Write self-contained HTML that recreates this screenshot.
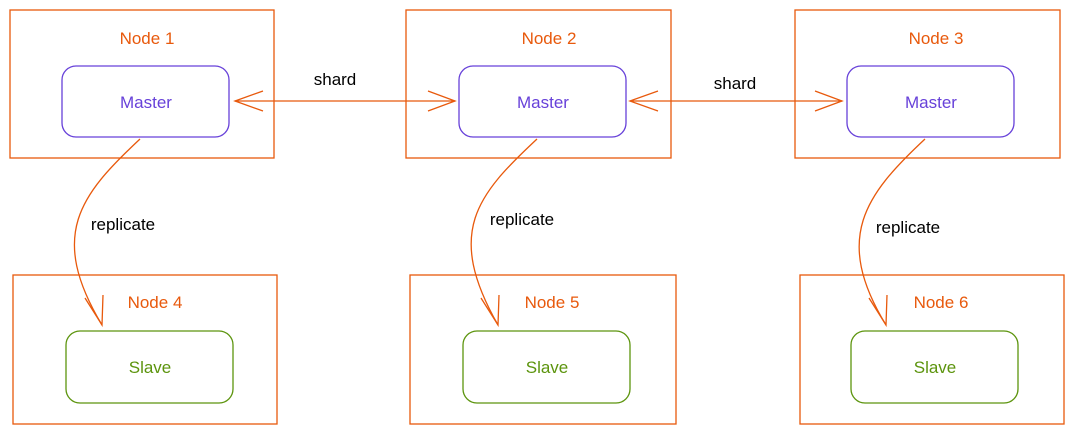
<!DOCTYPE html>
<html><head><meta charset="utf-8"><style>
html,body{margin:0;padding:0;background:#fff;width:1074px;height:434px;overflow:hidden}
text{font-family:"Comic Sans MS","Liberation Sans",sans-serif}
</style></head><body>
<svg width="1074" height="434" viewBox="0 0 1074 434" xmlns="http://www.w3.org/2000/svg">
<g fill="none" stroke="#e8590c" stroke-width="1.3">
<rect x="10" y="10" width="264" height="148"/>
<rect x="406" y="10" width="265" height="148"/>
<rect x="795" y="10" width="265" height="148"/>
<rect x="13" y="275" width="264" height="149"/>
<rect x="410" y="275" width="266" height="149"/>
<rect x="800" y="275" width="264" height="149"/>
</g>
<g fill="none" stroke="#6741d9" stroke-width="1.3">
<rect x="62" y="66" width="167" height="71" rx="14"/>
<rect x="459" y="66" width="167" height="71" rx="14"/>
<rect x="847" y="66" width="167" height="71" rx="14"/>
</g>
<g fill="none" stroke="#5c940d" stroke-width="1.3">
<rect x="66" y="331" width="167" height="72" rx="14"/>
<rect x="463" y="331" width="167" height="72" rx="14"/>
<rect x="851" y="331" width="167" height="72" rx="14"/>
</g>
<g fill="none" stroke="#e8590c" stroke-width="1.3">
<path d="M235,101 L455,101"/><path d="M263,91 L235,101 L263,111"/><path d="M428,91 L455,101 L428,111"/>
<path d="M630,101 L842,101"/><path d="M658,91 L630,101 L658,111"/><path d="M815,91 L842,101 L815,111"/>
<path d="M140,139 C 80,195 48,235 102,325"/><path d="M85,298 L102,325 L103,295"/>
<path d="M537,139 C 477,195 445,232 498,325"/><path d="M481,298 L498,325 L499,295"/>
<path d="M925,139 C 865,195 833,238 886,325"/><path d="M869,298 L886,325 L887,295"/>
</g>
<g font-size="17" fill="#e8590c" text-anchor="middle">
<text x="147" y="44">Node 1</text><text x="549" y="44">Node 2</text><text x="936" y="44">Node 3</text>
<text x="155" y="308">Node 4</text><text x="552" y="308">Node 5</text><text x="941" y="308">Node 6</text>
</g>
<g font-size="17" fill="#6741d9" text-anchor="middle">
<text x="146" y="108">Master</text><text x="543" y="108">Master</text><text x="931" y="108">Master</text>
</g>
<g font-size="17" fill="#5c940d" text-anchor="middle">
<text x="150" y="373">Slave</text><text x="547" y="373">Slave</text><text x="935" y="373">Slave</text>
</g>
<g font-size="17" fill="#000" text-anchor="middle">
<text x="335" y="85">shard</text><text x="735" y="89">shard</text>
<text x="123" y="230">replicate</text><text x="522" y="225">replicate</text><text x="908" y="233">replicate</text>
</g>
</svg>
</body></html>
